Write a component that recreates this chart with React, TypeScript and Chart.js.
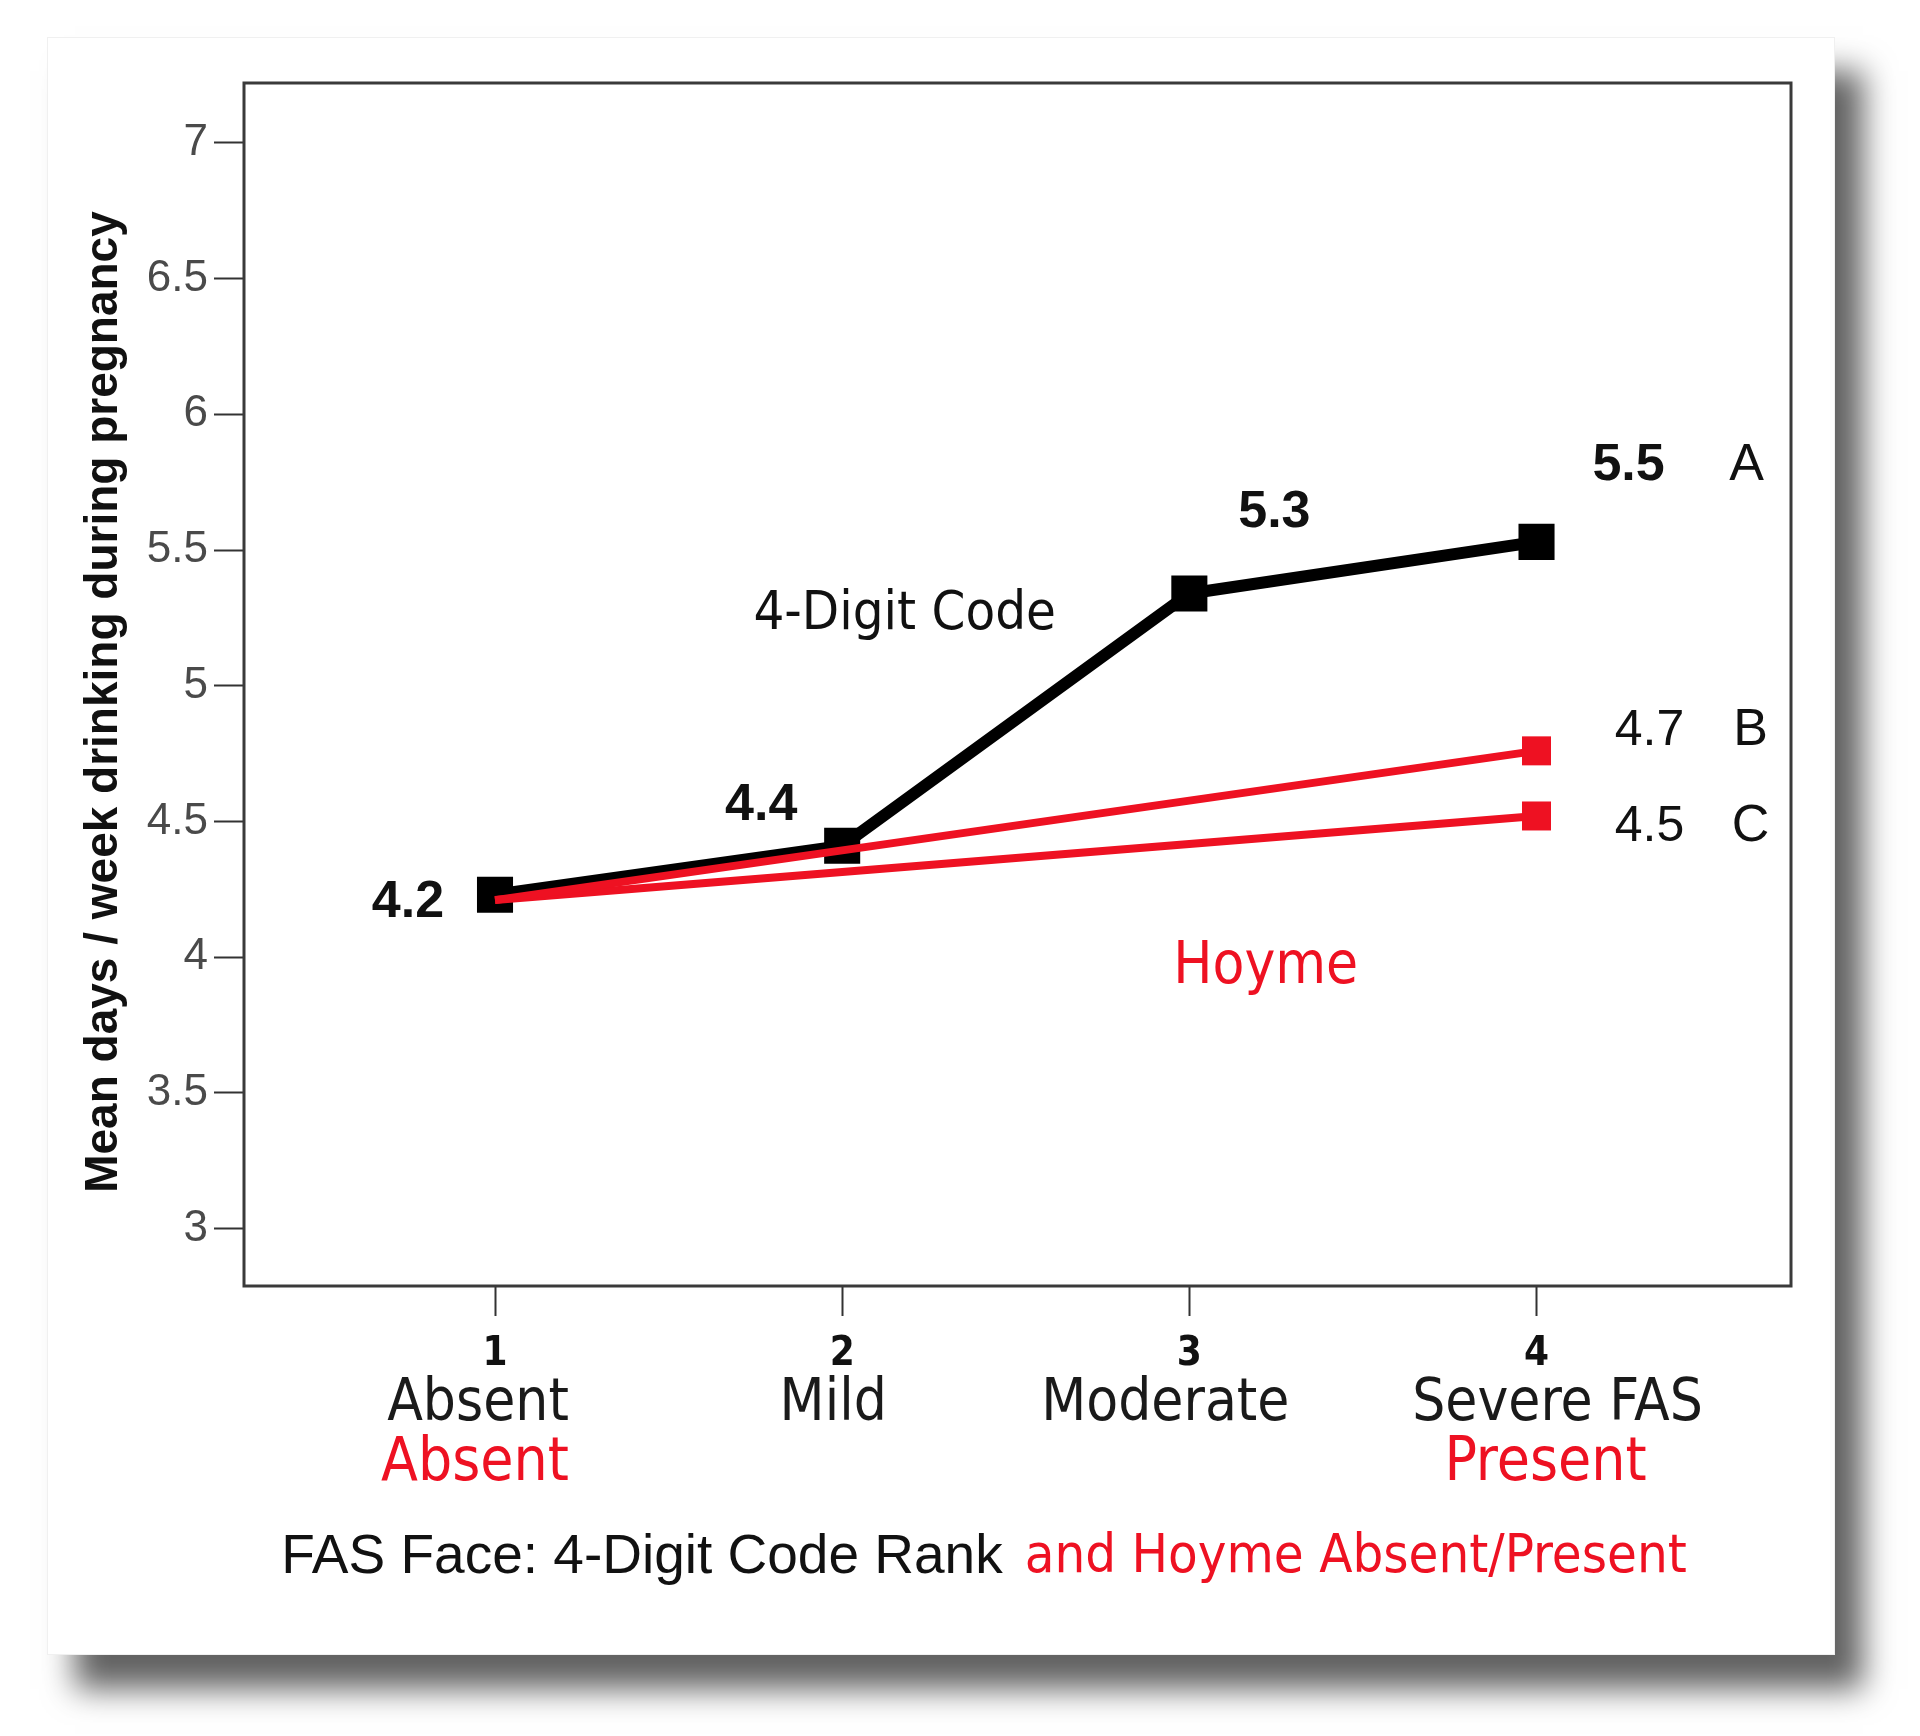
import React, { useEffect, useRef } from "react";
import { Chart, registerables } from "chart.js";

Chart.register(...registerables);

// ---- data ----
const FACE_RANKS = [1, 2, 3, 4];
const RANK_LABELS = ["Absent", "Mild", "Moderate", "Severe FAS"];
const HOYME_LABELS = ["Absent", "", "", "Present"];
const CODE_MEANS = [4.23, 4.41, 5.34, 5.53];
const CODE_VALUE_LABELS = ["4.2", "4.4", "5.3", "5.5"];
const HOYME_X = [1, 4];
const HOYME_B = [4.21, 4.76];
const HOYME_C = [4.21, 4.52];
const HOYME_END_LABELS = ["4.7", "4.5"];
const GROUP_LETTERS = ["A", "B", "C"];
const Y_TICKS = [3, 3.5, 4, 4.5, 5, 5.5, 6, 6.5, 7];
const Y_TITLE = "Mean days / week drinking during pregnancy";
const X_TITLE_BLACK = "FAS Face: 4-Digit Code Rank";
const X_TITLE_RED = "and Hoyme Absent/Present";
const CODE_NAME = "4-Digit Code";
const HOYME_NAME = "Hoyme";

const RED = "#ee1122";
const TAHOMA = "'DejaVu Sans Condensed', 'DejaVu Sans', sans-serif";
const ARIAL = "'Liberation Sans', Arial, sans-serif";
const NARROW = "'Liberation Sans Narrow', 'Liberation Sans', Arial, sans-serif";

const annotPlugin = {
  id: "annot",
  beforeDatasetsDraw(chart: any) {
    const { ctx, chartArea } = chart;
    ctx.save();
    ctx.strokeStyle = "#3a3a3a";
    ctx.lineWidth = 3;
    ctx.strokeRect(chartArea.left, chartArea.top, chartArea.right - chartArea.left, chartArea.bottom - chartArea.top);
    ctx.restore();
  },
  afterDatasetsDraw(chart: any) {
    const { ctx } = chart;
    const xs = chart.scales.x;
    const ys = chart.scales.y;
    ctx.save();
    ctx.textBaseline = "middle";
    ctx.textAlign = "center";

    // value labels on the 4-Digit Code line
    const offs = [[-87, 8], [-81, -40], [85, -81], [92, -76]];
    ctx.font = `bold 52px ${NARROW}`;
    ctx.fillStyle = "#111";
    CODE_MEANS.forEach((v, i) => {
      const px = xs.getPixelForValue(FACE_RANKS[i]);
      const py = ys.getPixelForValue(v);
      ctx.fillText(CODE_VALUE_LABELS[i], px + offs[i][0], py + offs[i][1]);
    });
    // group letter A
    const p4x = xs.getPixelForValue(FACE_RANKS[3]);
    ctx.font = `52px ${NARROW}`;
    ctx.fillText(GROUP_LETTERS[0], p4x + 210, ys.getPixelForValue(CODE_MEANS[3]) - 76);

    // Hoyme end labels
    const hoymeEnds = [HOYME_B[1], HOYME_C[1]];
    const hoymeDy = [-20, 11];
    hoymeEnds.forEach((v, i) => {
      const py = ys.getPixelForValue(v) + hoymeDy[i];
      ctx.font = `50px ${NARROW}`;
      ctx.fillText(HOYME_END_LABELS[i], p4x + 113, py);
      ctx.font = `52px ${NARROW}`;
      ctx.fillText(GROUP_LETTERS[i + 1], p4x + 214, py);
    });

    // series names
    ctx.font = `54px ${TAHOMA}`;
    ctx.fillStyle = "#111";
    ctx.fillText(CODE_NAME, xs.getPixelForValue(2.18), ys.getPixelForValue(5.26));
    ctx.font = `58px ${TAHOMA}`;
    ctx.fillStyle = RED;
    ctx.fillText(HOYME_NAME, xs.getPixelForValue(3.22), ys.getPixelForValue(3.96));

    // category labels under ticks
    const catDx = [-17, -9, -24, 21];
    const redDx = [-20, 0, 0, 9];
    RANK_LABELS.forEach((lab, i) => {
      const px = xs.getPixelForValue(FACE_RANKS[i]);
      ctx.font = `58px ${TAHOMA}`;
      ctx.fillStyle = "#1a1a1a";
      ctx.fillText(lab, px + catDx[i], 1405);
      if (HOYME_LABELS[i]) {
        ctx.font = `60px ${TAHOMA}`;
        ctx.fillStyle = RED;
        ctx.fillText(HOYME_LABELS[i], px + redDx[i], 1464);
      }
    });

    // x title (two colours)
    ctx.textAlign = "left";
    ctx.font = `55px ${ARIAL}`;
    const w1 = ctx.measureText(X_TITLE_BLACK).width;
    ctx.font = `54px ${TAHOMA}`;
    const w2 = ctx.measureText(X_TITLE_RED).width;
    const gap = 22;
    const startX = 984 - (w1 + gap + w2) / 2;
    ctx.font = `55px ${ARIAL}`;
    ctx.fillStyle = "#111";
    ctx.fillText(X_TITLE_BLACK, startX, 1558);
    ctx.font = `54px ${TAHOMA}`;
    ctx.fillStyle = RED;
    ctx.fillText(X_TITLE_RED, startX + w1 + gap, 1558);

    // y title
    ctx.save();
    ctx.translate(104, 702);
    ctx.rotate(-Math.PI / 2);
    ctx.textAlign = "center";
    ctx.font = `bold 46px ${ARIAL}`;
    ctx.fillStyle = "#111";
    ctx.fillText(Y_TITLE, 0, 0);
    ctx.restore();

    ctx.restore();
  },
};

export default function App() {
  const canvasRef = useRef<HTMLCanvasElement | null>(null);

  useEffect(() => {
    document.body.style.margin = "0";
    document.body.style.overflow = "hidden";
    const canvas = canvasRef.current;
    if (!canvas) return;

    const chart = new Chart(canvas, {
      type: "line",
      data: {
        datasets: [
          {
            label: "Hoyme B",
            data: HOYME_X.map((x, i) => ({ x, y: HOYME_B[i] })),
            borderColor: RED,
            backgroundColor: RED,
            borderWidth: 8,
            pointStyle: "rect",
            pointRadius: [0, 20.5],
            pointBorderWidth: 0,
            pointBackgroundColor: RED,
            order: 1,
          },
          {
            label: "Hoyme C",
            data: HOYME_X.map((x, i) => ({ x, y: HOYME_C[i] })),
            borderColor: RED,
            backgroundColor: RED,
            borderWidth: 8,
            pointStyle: "rect",
            pointRadius: [0, 20.5],
            pointBorderWidth: 0,
            pointBackgroundColor: RED,
            order: 1,
          },
          {
            label: "4-Digit Code",
            data: FACE_RANKS.map((x, i) => ({ x, y: CODE_MEANS[i] })),
            borderColor: "#000",
            backgroundColor: "#000",
            borderWidth: 12,
            pointStyle: "rect",
            pointRadius: 25.5,
            pointBorderWidth: 0,
            pointBackgroundColor: "#000",
            order: 2,
          },
        ],
      },
      options: {
        responsive: false,
        animation: false,
        devicePixelRatio: 1,
        layout: { padding: { left: 0, top: 83, right: 129, bottom: 0 } },
        plugins: {
          legend: { display: false },
          tooltip: { enabled: false },
        },
        scales: {
          x: {
            type: "linear",
            min: 0.277,
            max: 4.733,
            afterFit: (s: any) => {
              s.height = 450;
            },
            afterBuildTicks: (s: any) => {
              s.ticks = FACE_RANKS.map((v) => ({ value: v }));
            },
            border: { display: false },
            grid: {
              drawOnChartArea: false,
              drawTicks: true,
              tickLength: 30,
              tickColor: "#333",
              tickWidth: 2,
            },
            ticks: {
              padding: 15,
              color: "#111",
              font: { family: TAHOMA, size: 40, weight: "bold" },
              callback: (v: any) => String(v),
              maxRotation: 0,
            },
          },
          y: {
            type: "linear",
            min: 2.788,
            max: 7.221,
            afterFit: (s: any) => {
              s.width = 244;
            },
            afterBuildTicks: (s: any) => {
              s.ticks = Y_TICKS.map((v) => ({ value: v }));
            },
            border: { display: false },
            grid: {
              drawOnChartArea: false,
              drawTicks: true,
              tickLength: 30,
              tickColor: "#333",
              tickWidth: 2,
            },
            ticks: {
              padding: 6,
              color: "#4a4a4a",
              font: { family: ARIAL, size: 44 },
              callback: (v: any) => String(v),
            },
          },
        },
      },
      plugins: [annotPlugin],
    } as any);

    return () => chart.destroy();
  }, []);

  return (
    <div style={{ position: "relative", width: 1920, height: 1736, overflow: "hidden", background: "#fff" }}>
      <div
        style={{
          position: "absolute",
          left: 47,
          top: 37,
          width: 1786,
          height: 1616,
          background: "#fff",
          border: "1px solid #f0f0f0",
          boxShadow: "28px 34px 30px rgba(0,0,0,0.62)",
        }}
      />
      <canvas
        ref={canvasRef}
        width={1920}
        height={1736}
        style={{ position: "absolute", left: 0, top: 0, width: 1920, height: 1736 }}
      />
    </div>
  );
}
